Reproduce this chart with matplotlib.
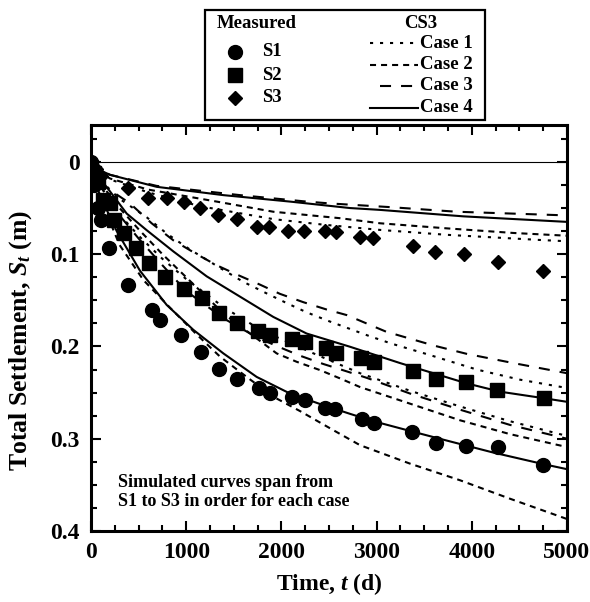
import matplotlib
matplotlib.use('Agg')
import matplotlib.pyplot as plt
from matplotlib.patches import Rectangle
from matplotlib.ticker import MultipleLocator

plt.rcParams['font.family'] = ['Liberation Serif', 'DejaVu Serif']
plt.rcParams['font.weight'] = 'bold'
plt.rcParams['mathtext.fontset'] = 'custom'
plt.rcParams['mathtext.rm'] = 'Liberation Serif:bold'
plt.rcParams['mathtext.it'] = 'Liberation Serif:bold:italic'
plt.rcParams['mathtext.bf'] = 'Liberation Serif:bold'

# ---------------- Measured data ----------------
s1_t = [0, 15, 30, 75, 100, 190, 390, 640, 730, 950, 1155, 1340, 1530, 1760, 1880,
        2115, 2250, 2460, 2565, 2845, 2975, 3375, 3625, 3940, 4270, 4750]
s1_S = [0, 0.010, 0.025, 0.050, 0.063, 0.093, 0.133, 0.160, 0.171, 0.188, 0.206, 0.224,
        0.235, 0.245, 0.250, 0.2545, 0.258, 0.267, 0.268, 0.279, 0.283, 0.293, 0.305,
        0.308, 0.309, 0.328]

s2_t = [0, 30, 75, 130, 200, 240, 345, 475, 610, 777, 980, 1165, 1340, 1535, 1757, 1880,
        2108, 2248, 2465, 2573, 2836, 2973, 3379, 3624, 3939, 4268, 4762]
s2_S = [0.005, 0.012, 0.022, 0.041, 0.045, 0.063, 0.0775, 0.093, 0.110, 0.125, 0.138,
        0.148, 0.164, 0.175, 0.183, 0.1876, 0.192, 0.195, 0.202, 0.2068, 0.213, 0.2166,
        0.2263, 0.2353, 0.239, 0.247, 0.256]

s3_t = [0, 50, 100, 392, 595, 795, 975, 1145, 1330, 1530, 1740, 1873, 2073, 2241, 2458,
        2575, 2826, 2966, 3386, 3613, 3922, 4272, 4751]
s3_S = [0, 0.008, 0.015, 0.028, 0.039, 0.039, 0.043, 0.050, 0.057, 0.062, 0.070, 0.071,
        0.0745, 0.0745, 0.0745, 0.076, 0.081, 0.083, 0.091, 0.098, 0.100, 0.109, 0.118]

# ---------------- CS3 simulations ----------------
# Case 1 (dotted)
c1_s1_t = [0, 50, 150, 300, 500, 750, 1000, 1400, 1800, 2370, 2826, 3350, 3876, 4400, 5000]
c1_s1_S = [0, 0.015, 0.035, 0.057, 0.080, 0.105, 0.127, 0.158, 0.183, 0.209, 0.229, 0.248,
           0.265, 0.281, 0.297]
c1_s2_t = [0, 50, 150, 300, 585, 800, 1040, 1390, 1600, 1845, 2055, 2265, 2510, 2720, 2930,
           3159, 3550, 4051, 4506, 5000]
c1_s2_S = [0, 0.012, 0.025, 0.040, 0.060, 0.078, 0.095, 0.117, 0.130, 0.1425, 0.153, 0.163,
           0.173, 0.181, 0.189, 0.197, 0.209, 0.225, 0.236, 0.245]
c1_s3_t = [0, 50, 200, 600, 1145, 1915, 2440, 3036, 3736, 4716, 5000]
c1_s3_S = [0, 0.008, 0.019, 0.033, 0.048, 0.062, 0.068, 0.0737, 0.079, 0.0846, 0.086]

# Case 2 (short dash)
c2_s1_t = [0, 30, 100, 300, 550, 830, 1110, 1355, 1635, 1915, 2195, 2545, 2826, 3351, 3876,
           4401, 5000]
c2_s1_S = [0, 0.015, 0.040, 0.090, 0.128, 0.158, 0.187, 0.211, 0.233, 0.2545, 0.270, 0.2907,
           0.307, 0.327, 0.345, 0.365, 0.387]
c2_s2_t = [0, 50, 150, 300, 500, 750, 1000, 1400, 1950, 2160, 2405, 2615, 2826, 3351, 3876,
           4400, 5000]
c2_s2_S = [0, 0.013, 0.030, 0.050, 0.073, 0.100, 0.125, 0.165, 0.2075, 0.2166, 0.2256,
           0.2346, 0.244, 0.262, 0.280, 0.295, 0.309]
c2_s3_t = [0, 50, 200, 600, 1320, 1915, 2615, 3036, 3736, 4436, 5000]
c2_s3_S = [0, 0.008, 0.018, 0.030, 0.043, 0.054, 0.061, 0.0665, 0.072, 0.077, 0.080]

# Case 3 (long dash)
c3_s1_t = [0, 50, 150, 300, 500, 750, 1000, 1400, 1740, 1985, 2195, 2440, 2686, 2896, 3350,
           3876, 4400, 5000]
c3_s1_S = [0, 0.015, 0.035, 0.058, 0.083, 0.112, 0.140, 0.170, 0.190, 0.201, 0.210, 0.219,
           0.227, 0.234, 0.251, 0.2685, 0.285, 0.300]
c3_s2_t = [0, 50, 150, 410, 637, 865, 1110, 1320, 1530, 1775, 1985, 2230, 2476, 2686, 3100,
           3600, 3946, 4436, 5000]
c3_s2_S = [0, 0.012, 0.027, 0.045, 0.0665, 0.085, 0.100, 0.112, 0.122, 0.133, 0.143, 0.152,
           0.160, 0.166, 0.184, 0.199, 0.208, 0.218, 0.229]
c3_s3_t = [0, 50, 200, 690, 1565, 2265, 2510, 3141, 3841, 4716, 5000]
c3_s3_S = [0, 0.007, 0.014, 0.026, 0.036, 0.043, 0.045, 0.049, 0.054, 0.057, 0.058]

# Case 4 (solid)
c4_s1_t = [0, 50, 165, 270, 515, 795, 1075, 1390, 1740, 2090, 2440, 2720, 2966, 3386, 3700,
           4226, 4751, 5000]
c4_s1_S = [0, 0.025, 0.052, 0.075, 0.118, 0.155, 0.182, 0.2075, 0.233, 0.251, 0.2636, 0.273,
           0.281, 0.2925, 0.301, 0.315, 0.3275, 0.333]
c4_s2_t = [0, 50, 200, 375, 585, 865, 1215, 1565, 1915, 2265, 2720, 3246, 3946, 4296, 4751,
           5000]
c4_s2_S = [0, 0.012, 0.032, 0.056, 0.074, 0.097, 0.124, 0.146, 0.168, 0.186, 0.2003, 0.218,
           0.240, 0.249, 0.256, 0.260]
c4_s3_t = [0, 50, 200, 690, 1390, 2090, 2720, 3036, 3911, 5000]
c4_s3_S = [0, 0.007, 0.014, 0.027, 0.036, 0.043, 0.050, 0.052, 0.059, 0.065]

measured_labels = ['S1', 'S2', 'S3']
case_labels = ['Case 1', 'Case 2', 'Case 3', 'Case 4']
xtick_vals = [0, 1000, 2000, 3000, 4000, 5000]
xtick_labels = ['0', '1000', '2000', '3000', '4000', '5000']
ytick_vals = [0, 0.1, 0.2, 0.3, 0.4]
ytick_labels = ['0', '0.1', '0.2', '0.3', '0.4']

# ---------------- styles ----------------
LW = 1.5
case_styles = [(0, (1.5, 3.3)), (0, (2.9, 2.4)), (0, (5.3, 4.8)), '-']
marker_styles = [dict(marker='o', ms=10), dict(marker='s', ms=10.5), dict(marker='D', ms=7.5)]

fig = plt.figure(figsize=(5.9, 6.02), dpi=100)
ax = fig.add_axes([91 / 590, 1 - 531 / 602, (567 - 91) / 590, (531 - 125) / 602])

ax.axhline(0, color='black', lw=0.8, zorder=1)

cases = [
    [(c1_s1_t, c1_s1_S), (c1_s2_t, c1_s2_S), (c1_s3_t, c1_s3_S)],
    [(c2_s1_t, c2_s1_S), (c2_s2_t, c2_s2_S), (c2_s3_t, c2_s3_S)],
    [(c3_s1_t, c3_s1_S), (c3_s2_t, c3_s2_S), (c3_s3_t, c3_s3_S)],
    [(c4_s1_t, c4_s1_S), (c4_s2_t, c4_s2_S), (c4_s3_t, c4_s3_S)],
]
for ci, curves in enumerate(cases):
    for (tt, ss) in curves:
        ax.plot(tt, ss, color='black', lw=LW, linestyle=case_styles[ci], zorder=2)

measured = [(s1_t, s1_S), (s2_t, s2_S), (s3_t, s3_S)]
for (tt, ss), st in zip(measured, marker_styles):
    ax.plot(tt, ss, linestyle='none', color='black', mfc='black', mec='black', zorder=3, **st)

ax.set_xlim(0, 5000)
ax.set_ylim(0.4, -0.04)
ax.set_xticks(xtick_vals)
ax.set_xticklabels(xtick_labels)
ax.set_yticks(ytick_vals)
ax.set_yticklabels(ytick_labels)
ax.xaxis.set_minor_locator(MultipleLocator(250))
ax.yaxis.set_minor_locator(MultipleLocator(0.025))
ax.tick_params(which='both', direction='in', top=True, right=True, width=1.5, labelsize=17, pad=8)
ax.tick_params(which='major', length=7)
ax.tick_params(which='minor', length=4)
for sp in ax.spines.values():
    sp.set_linewidth(2.2)

ax.set_xlabel('Time, $\\mathit{t}$ (d)', fontsize=17, fontweight='bold', labelpad=6)
ax.set_ylabel('Total Settlement, $\\mathit{S}_{t}$ (m)', fontsize=18.5, fontweight='bold')
ax.yaxis.set_label_coords(-0.12, 0.47)

ax.text(0.057, 0.096, 'Simulated curves span from\nS1 to S3 in order for each case',
        transform=ax.transAxes, fontsize=13, fontweight='bold', ha='left', va='center',
        linespacing=1.2)

# ---------------- legend (drawn in figure pixel space) ----------------
lax = fig.add_axes([0, 0, 1, 1], zorder=5)
lax.set_xlim(0, 590)
lax.set_ylim(602, 0)
lax.axis('off')
lax.add_patch(Rectangle((205, 10), 280, 110, fill=False, lw=1.6, edgecolor='black'))
lax.text(257, 24, 'Measured', ha='center', va='center', fontsize=13.5, fontweight='bold')
lax.text(421, 24, 'CS3', ha='center', va='center', fontsize=13.5, fontweight='bold')
for i, (lab, st) in enumerate(zip(measured_labels, marker_styles)):
    y = 52 + 23 * i
    lax.plot([235], [y], linestyle='none', color='black', **st)
    lax.text(262, y, lab, ha='left', va='center', fontsize=13.5, fontweight='bold')
for i, (lab, ls) in enumerate(zip(case_labels, case_styles)):
    y = 43 + 21.5 * i
    x0 = 380 if i == 2 else 370
    lax.plot([x0, 418], [y, y], color='black', lw=LW, linestyle=ls)
    lax.text(420, y, lab, ha='left', va='center', fontsize=13.5, fontweight='bold')

fig.savefig('out.png', dpi=100)
